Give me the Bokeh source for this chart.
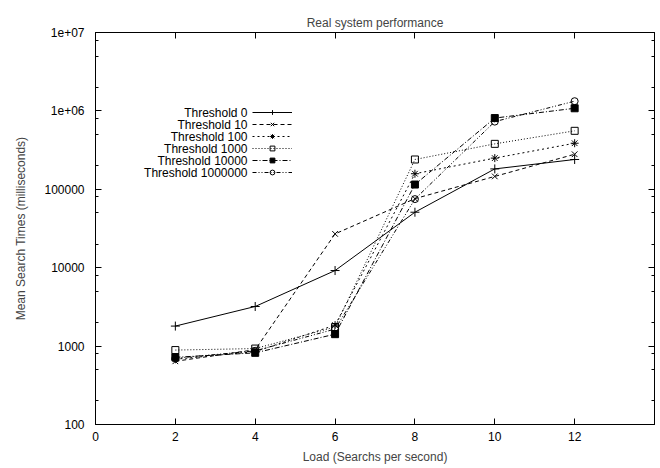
from bokeh.plotting import figure
from bokeh.models import FixedTicker, LinearAxis, LogAxis, Legend, LegendItem, Range1d, Label
from bokeh.embed import file_html
from bokeh.resources import INLINE

# ---- data ----
loads = [2, 4, 6, 8, 10, 12]
thr_0 = [1800, 3200, 9200, 51000, 182000, 240000]
thr_10 = [640, 900, 27000, 76000, 146000, 280000]
thr_100 = [680, 850, 1850, 158000, 250000, 387000]
thr_1000 = [890, 930, 1750, 240000, 380000, 557000]
thr_10000 = [720, 820, 1420, 115000, 810000, 1080000]
thr_1000000 = [700, 870, 1650, 75000, 730000, 1330000]
series_names = ["Threshold 0", "Threshold 10", "Threshold 100",
                "Threshold 1000", "Threshold 10000", "Threshold 1000000"]

x_ticks = [0, 2, 4, 6, 8, 10, 12]
y_ticks = [100, 1000, 10000, 100000, 1000000, 10000000]
y_tick_labels = ["100", "1000", "10000", "100000", "1e+06", "1e+07"]
y_minor = [m * d for d in [100, 1000, 10000, 100000, 1000000] for m in (2, 5, 8)]

FONT = "Liberation Sans"

p = figure(width=660, height=468, y_axis_type="log",
           x_range=Range1d(0, 14), y_range=Range1d(100, 1e7),
           output_backend="svg", toolbar_location=None,
           min_border_left=95, min_border_right=6,
           min_border_top=32, min_border_bottom=44)

p.title.text = "Real system performance"
p.title.align = "center"
p.title.text_font = FONT
p.title.text_font_size = "12px"
p.title.text_font_style = "normal"
p.title.standoff = 6

p.xgrid.visible = False
p.ygrid.visible = False
p.outline_line_color = "black"
p.outline_line_width = 1

xt = FixedTicker(ticks=x_ticks, minor_ticks=[])
yt = FixedTicker(ticks=y_ticks, minor_ticks=y_minor)
overrides = {t: s for t, s in zip(y_ticks, y_tick_labels)}

def style_axis(ax, labels=True):
    ax.axis_line_color = "black"
    ax.major_tick_in = 6
    ax.major_tick_out = 0
    ax.minor_tick_in = 3
    ax.minor_tick_out = 0
    ax.major_tick_line_color = "black"
    ax.minor_tick_line_color = "black"
    ax.major_label_text_font = FONT
    ax.axis_label_text_font = FONT
    ax.axis_label_text_font_size = "12px"
    ax.axis_label_text_font_style = "normal"
    if labels:
        ax.major_label_text_font_size = "12px"
        ax.major_label_text_color = "black"
    else:
        # mirrored tick marks only (gnuplot style), labels not drawn
        ax.major_label_text_color = None
        ax.major_label_text_font_size = "1px"
        ax.major_label_standoff = 0

xa = p.xaxis[0]
xa.ticker = xt
style_axis(xa)
xa.major_label_standoff = 7
xa.axis_label = "Load (Searchs per second)"
xa.axis_label_standoff = 6

ya = p.yaxis[0]
ya.ticker = yt
ya.major_label_overrides = overrides
style_axis(ya)
ya.major_label_standoff = 11
ya.axis_label = "Mean Search Times (milliseconds)"
ya.axis_label_standoff = 13

top = LinearAxis(ticker=xt)
style_axis(top, labels=False)
p.add_layout(top, "above")
right = LogAxis(ticker=yt)
style_axis(right, labels=False)
p.add_layout(right, "right")

series = [
    (thr_0, "solid", "cross", 9, "black"),
    (thr_10, "4 3", "x", 8, "black"),
    (thr_100, "2 3", "asterisk", 8, "black"),
    (thr_1000, "1 2", "square", 7, None),
    (thr_10000, "5 2 1 2", "square", 7, "black"),
    (thr_1000000, "4 2 1 2 1 2", "circle", 7, None),
]

items = []
for name, (vals, dash, marker, size, fill) in zip(series_names, series):
    lr = p.line(loads, vals, line_color="black", line_width=1, line_dash=dash)
    sr = p.scatter(loads, vals, marker=marker, size=size, line_color="black",
                   line_width=1, fill_color=fill)
    items.append(LegendItem(label=name, renderers=[lr, sr]))

# legend keys (gnuplot style: sample to the right of the right-aligned text)
row_h = 12
legend_bottom = 246
legend = Legend(items=items, location=(157, legend_bottom))
legend.border_line_alpha = 0
legend.background_fill_alpha = 0
legend.padding = 0
legend.margin = 0
legend.spacing = 0
legend.glyph_width = 40
legend.glyph_height = row_h
legend.label_height = row_h
legend.label_width = 0
legend.label_standoff = 0
legend.label_text_font_size = "1px"
legend.label_text_color = None
p.add_layout(legend)

first_row = legend_bottom + row_h * len(series_names) - row_h / 2
for i, name in enumerate(series_names):
    p.add_layout(Label(x=152, y=first_row - i * row_h, x_units="screen", y_units="screen",
                       text=name, text_align="right", text_baseline="middle",
                       text_font=FONT, text_font_size="12px", text_color="black"))

open("out.html", "w").write(file_html(p, INLINE))
